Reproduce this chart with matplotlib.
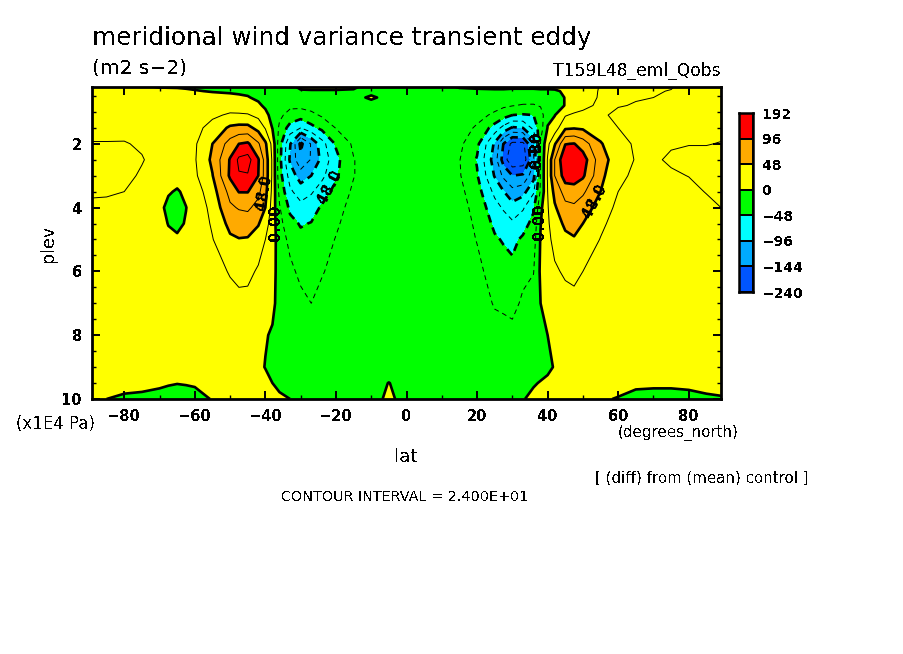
import numpy as np
import matplotlib
matplotlib.use('Agg')
import matplotlib.pyplot as plt
from matplotlib.colors import ListedColormap

plt.rcParams['text.antialiased'] = False

plev = [0.2, 0.35, 0.55, 0.8, 1.1, 1.5, 2, 2.5, 3, 3.5, 4, 4.5, 5, 6, 7, 8, 9, 9.5, 10]
lat = [-89.14, -85, -80, -75, -70, -67.5, -65, -62.5, -60, -55, -50, -47.5, -45, -42, -40, -38, -36, -33, -30, -27, -24,
       -20, -15, -10, -5, 0, 5, 10, 15, 20, 25, 27.5, 30, 33, 36, 38, 40, 42, 45, 47.5, 50, 55, 60, 65, 70, 75, 80, 85,
       89.14]

# one list per latitude, values read along plev
m89 = [8, 10, 10, 12, 14, 18, 25, 29, 28, 26, 21, 15, 12, 8, 6, 5, 4, 3, 1]
m85 = [6, 9, 10, 12, 14, 18, 25, 29, 28, 26, 20, 14, 11, 7, 6, 5, 4, 2, 0]
m80 = [4, 8, 11, 13, 15, 19, 25, 29, 28, 24, 18, 13, 10, 7, 5, 5, 4, 2, -1]
m75 = [2, 7, 12, 14, 15, 18, 22, 25, 22, 16, 9, 6, 5, 5, 5, 4, 3, 2.5, -2]
m70 = [-2, 6, 14, 15, 14, 15, 17, 18, 15, 8, 4, 5, 6, 6, 6, 5, 3, 2, -4]
m67 = [-2.5, 6, 13, 14, 14, 15, 17, 16, 11, 1.5, -4, -0.5, 3, 6, 6, 5, 3, 1, -5]
m65 = [-3, 6, 13, 14, 13, 14, 16, 14, 6, -1.5, -6, -3, 2, 6, 7, 6, 3, 0.3, -5]
m62 = [-3, 3, 11, 14, 14, 15, 18, 18, 13, 3, -0.3, 1, 5, 7, 7, 6, 3, 0.6, -4]
m60 = [-3, 1, 10, 14, 15, 17, 21, 22, 20, 12, 6, 7, 8, 8, 7, 6, 3, 1, -3]
m55 = [-5, -1, 6, 13, 20, 32, 48, 53, 47, 38, 32, 27, 23, 14, 10, 7, 4, 3, 0.5]
m50 = [-4, -2, 4, 14, 27, 52, 82, 98, 100, 80, 68, 55, 44, 26, 15, 10, 5, 3, 2]
m47 = [-5, -2.5, 2.5, 12, 27, 55, 96, 125, 118, 97, 74, 59, 47, 30, 18, 10, 5, 3, 2]
m45 = [-6, -3, 1, 10, 26, 55, 100, 130, 118, 97, 76, 60, 46, 30, 17, 10, 5, 3, 2]
m42 = [-8, -6, -3, 3, 18, 40, 75, 98, 96, 78, 64, 50, 36, 21, 11, 6, 3, 3, 4]
m40 = [-10, -9, -7, -3, 5, 22, 52, 62, 62, 55, 48, 34, 24, 14, 8, 1, -0.5, 4, 6]
m38 = [-12, -12, -11, -9, -6, -1, 16, 20, 20, 18, 14, 12, 9, 5, 3, -1.5, -6, 0, 5]
m36 = [-12, -13, -13, -13, -20, -28, -38, -40, -38, -30, -22, -16, -10, -6, -5, -8, -8, -4, 3]
m33 = [-2, -10, -13, -20, -31, -58, -94, -100, -82, -68, -53, -41, -31, -18, -10, -8, -6, -4, 0]
m30 = [2, -1, -7, -18, -37, -72, -150, -138, -108, -83, -65, -50, -42, -30, -17, -10, -7, -5, -3]
m27 = [3, -1, -6, -15, -30, -55, -118, -118, -96, -75, -58, -47, -40, -32, -24, -13, -8, -6, -5]
m24 = [3, -1, -5, -11, -21, -42, -82, -90, -78, -60, -45, -38, -33, -26, -16, -10, -7, -6, -5]
m20 = [3, -1, -4, -8, -14, -23, -45, -55, -52, -40, -32, -27, -23, -16, -11, -8, -6, -5, -5]
m15 = [1.5, -1, -3, -5, -8, -12, -20, -25, -25, -20, -16, -14, -12, -9, -7, -6, -6, -6, -6]
m10 = [-3, -3, 1.5, -4, -5, -7, -9, -11, -11, -10, -9, -8, -8, -7, -7, -6, -7, -8, -11]
m05 = [-2, -3, -3, -3, -4, -5, -6, -7, -7, -7, -7, -7, -7, -7, -7, -7, -12, 0.5, 6]
eq0 = [-3, -3, -3, -3, -4, -5, -6, -6, -6, -6, -6, -6, -6, -6, -6, -6, -6, -8, -11]
p05 = [-3, -3, -3, -3, -4, -5, -6, -6, -7, -7, -7, -7, -7, -7, -6, -6, -6, -6, -6]
p10 = [-2, -3, -4, -5, -6, -8, -10, -12, -12, -11, -10, -9, -9, -8, -7, -6, -6, -6, -6]
p15 = [1, -2, -4, -6, -9, -14, -19, -23, -22, -18, -15, -13, -12, -10, -8, -7, -6, -6, -6]
p20 = [2, -2, -5, -10, -17, -27, -42, -50, -46, -38, -32, -28, -25, -18, -12, -8, -6, -5, -5]
p25 = [3, -2, -8, -17, -28, -58, -100, -108, -98, -78, -63, -53, -45, -34, -26, -15, -8, -6, -5]
p27 = [3, -2, -10, -20, -38, -80, -145, -155, -125, -95, -75, -60, -50, -38, -28, -16, -9, -6, -5]
p30 = [3, -3, -11, -23, -48, -99, -175, -188, -144, -112, -87, -68, -54, -42, -31, -17, -10, -7, -6]
p33 = [3, -3, -13, -26, -50, -96, -175, -185, -140, -105, -75, -58, -44, -30, -20, -12, -8, -6, -1]
p36 = [3, -3, -14, -26, -48, -65, -115, -125, -105, -75, -52, -40, -34, -25, -14, -8, -5, -1.5, 4]
p38 = [3, -2, -8, -22, -36, -35, -22, -22, -21, -20, -6, -1, 2, 4, 0, -5, -6, 1, 5]
p40 = [3, -2, -6, -8, -5, 1, 18, 26, 26, 24, 22, 20, 17, 12, 6, 0, -3, 3, 7]
p42 = [2, -1, -3, -3, -1, 12, 45, 72, 72, 55, 45, 38, 32, 20, 10, 4, 1, 5, 8]
p45 = [3, 1, 0.3, 0.3, 22, 44, 95, 118, 108, 82, 65, 52, 43, 28, 14, 8, 5, 5, 7]
p47 = [4, 4, 6, 10, 28, 46, 97, 119, 110, 84, 68, 56, 46, 30, 17, 9, 5, 4, 5]
p50 = [6, 8, 12, 20, 28, 44, 84, 108, 100, 76, 60, 48, 40, 24, 14, 8, 5, 3, 3]
p55 = [26, 27, 27, 27, 27, 36, 50, 58, 54, 48, 38, 29, 23, 16, 11, 7, 4, 2, 1]
p60 = [26, 27, 26, 25, 20, 24, 32, 36, 30, 24, 18, 14, 12, 9, 7, 5, 2, 3, -0.5]
p65 = [26, 26, 25, 23, 20, 20, 21, 22.5, 19, 15, 12, 10, 9, 7, 5, 4, 1.5, 2, -3]
p70 = [26, 25, 24, 22, 20, 19, 19, 21, 18, 14, 11, 9, 8, 6, 5, 4, 1.5, 1.5, -3]
p75 = [25, 23.5, 22, 21, 20, 20, 22, 27, 21, 16, 12, 10, 9, 7, 5, 4, 1.5, 1.5, -3]
p80 = [20, 20, 20, 20, 20, 21, 23.5, 28, 24.5, 18, 13, 11, 9, 7, 5, 4, 2, 1.5, -2]
p85 = [18, 19, 19, 19, 20, 21, 23.5, 28, 28, 25, 18, 13, 10, 7, 5, 4, 3, 2, -1]
p89 = [17, 18, 19, 19, 20, 21, 24.5, 28, 28, 27, 24, 17, 12, 8, 6, 4, 3, 2, -0.5]

columns = [m89, m85, m80, m75, m70, m67, m65, m62, m60, m55, m50, m47, m45, m42, m40, m38, m36, m33, m30, m27, m24,
           m20, m15, m10, m05, eq0, p05, p10, p15, p20, p25, p27, p30, p33, p36, p38, p40, p42, p45, p47, p50, p55, p60,
           p65, p70, p75, p80, p85, p89]

fill_levels = [-240, -144, -96, -48, 0, 48, 96, 192]
fill_colors = ['#0055ff', '#00aaff', '#00ffff', '#00ff00', '#ffff00', '#ffaa00', '#ff0000']
bar_labels = ['\u2212240', '\u2212144', '\u221296', '\u221248', '0', '48', '96', '192']

W, H = 904, 654
Z = np.column_stack(columns)

fig = plt.figure(figsize=(W / 100, H / 100), dpi=100)
ax = fig.add_axes([92 / W, 1 - 399 / H, 629 / W, 312 / H])

ax.contourf(lat, plev, Z, levels=fill_levels, colors=fill_colors)

thin_neg = [-168, -120, -72, -24]
thick_neg = [-192, -144, -96, -48]
thin_pos = [24, 72, 120, 168]
thick_pos = [0, 48, 96, 144]
ax.contour(lat, plev, Z, levels=thin_neg, colors='k', linewidths=0.7, linestyles=[(0, (5, 4))])
ax.contour(lat, plev, Z, levels=thick_neg, colors='k', linewidths=1.9, linestyles=[(0, (3, 2))])
ax.contour(lat, plev, Z, levels=thin_pos, colors='k', linewidths=0.7, linestyles='solid')
ax.contour(lat, plev, Z, levels=thick_pos, colors='k', linewidths=1.9, linestyles='solid')

ax.set_xlim(-89.14, 89.14)
ax.set_ylim(10, 0.22)
ax.set_xticks(np.arange(-80, 81, 20))
ax.set_xticks(np.arange(-80, 81, 10), minor=True)
ax.set_yticks([2, 4, 6, 8, 10])
ax.set_yticks(np.arange(0.5, 10, 0.5), minor=True)
ax.set_xticklabels(['\u221280', '\u221260', '\u221240', '\u221220', '0', '20', '40', '60', '80'],
                   fontsize=10.5, fontweight='bold')
ax.set_yticklabels(['2', '4', '6', '8', '10'], fontsize=10.5, fontweight='bold')
ax.tick_params(which='major', direction='in', length=6, width=1.4, top=True, right=True, pad=7)
ax.tick_params(which='minor', direction='in', length=3, width=1, top=True, right=True)
for s in ax.spines.values():
    s.set_linewidth(2)

# contour labels
for x, y, txt, rot in [(-40.4, 3.53, '48.0', 80), (-37, 4.47, '0.00', 90), (-21.7, 3.34, '48.0', 62),
                       (37, 2.2, '0.80', 90), (37.9, 4.44, '0.00', 90), (53.5, 3.78, '48.0', 62)]:
    ax.text(x, y, txt, rotation=rot, fontsize=10.5, fontweight='bold', ha='center', va='center')

# colour key
cax = fig.add_axes([739 / W, 1 - 292 / H, 14 / W, 179 / H])
cax.pcolormesh([0, 1], np.arange(8), np.arange(7).reshape(-1, 1), cmap=ListedColormap(fill_colors),
               edgecolors='k', linewidth=1.4)
cax.set_xticks([])
cax.set_yticks(np.arange(8))
cax.set_yticklabels(bar_labels, fontsize=10, fontweight='bold')
cax.yaxis.tick_right()
cax.tick_params(length=0, pad=7)
for s in cax.spines.values():
    s.set_linewidth(1.8)


def label(x, y, txt, size, ha='left', rot=0, weight='normal'):
    fig.text(x / W, 1 - y / H, txt, fontsize=size, ha=ha, va='center', rotation=rot, fontweight=weight)


label(92, 38, 'meridional wind variance transient eddy', 17.7)
label(92, 68, '(m2 s\u22122)', 14.5)
label(721, 71, 'T159L48_eml_Qobs', 12.3, ha='right')
label(48, 243, 'plev', 12.5, ha='center', rot=90)
label(16, 424, '(x1E4 Pa)', 12)
label(618, 433, '(degrees_north)', 10.9)
label(406, 457, 'lat', 13, ha='center')
label(595, 478, '[ (diff) from (mean) control ]', 10.8)
label(281, 497, 'CONTOUR INTERVAL = 2.400E+01', 10.4)

fig.savefig('out.png', dpi=100)
